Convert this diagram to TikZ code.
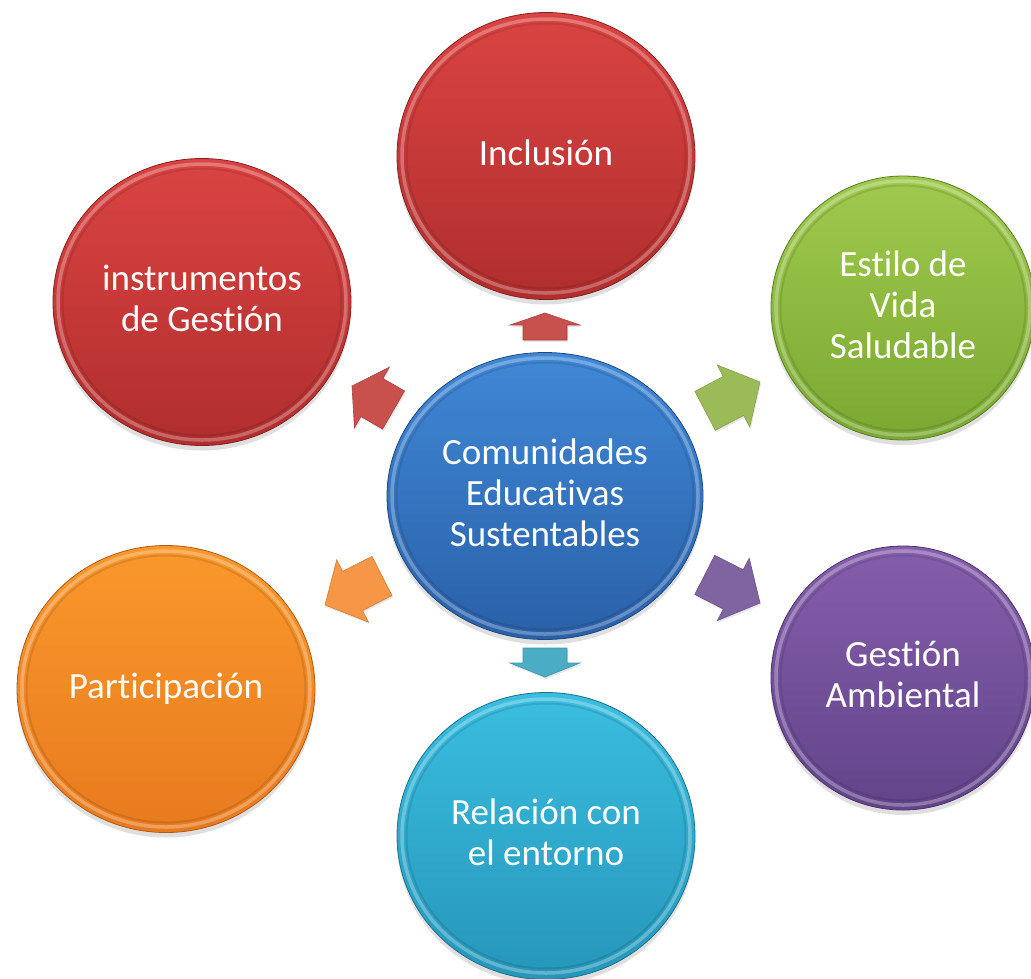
\documentclass[tikz,border=0pt]{standalone}
\usepackage{fontspec}
\setmainfont[Ligatures={NoCommon}]{Carlito}
\usetikzlibrary{shapes.geometric,shadows}
\definecolor{redT}{RGB}{218,68,66}
\definecolor{redB}{RGB}{176,46,46}
\definecolor{greenT}{RGB}{160,202,78}
\definecolor{greenB}{RGB}{122,168,50}
\definecolor{orangeT}{RGB}{250,152,44}
\definecolor{orangeB}{RGB}{232,122,30}
\definecolor{cyanT}{RGB}{58,190,224}
\definecolor{cyanB}{RGB}{38,150,186}
\definecolor{purpleT}{RGB}{134,94,172}
\definecolor{purpleB}{RGB}{98,68,138}
\definecolor{blueT}{RGB}{64,136,214}
\definecolor{blueB}{RGB}{42,96,168}
\definecolor{aRed}{RGB}{200,80,77}
\definecolor{aGreen}{RGB}{155,187,89}
\definecolor{aPurple}{RGB}{128,100,162}
\definecolor{aOrange}{RGB}{247,150,70}
\definecolor{aCyan}{RGB}{75,172,198}
\tikzset{
  bubble/.style n args={2}{ellipse, top color=#1, bottom color=#2, draw=#2!75!black,
    line width=0.8pt, text=white, align=center, inner sep=0pt, text depth=7pt,
    font=\fontsize{37}{41}\selectfont,
    drop shadow={opacity=0.25, shadow xshift=0pt, shadow yshift=-5pt}},
  bigb/.style={minimum width=298pt, minimum height=287pt},
  smallb/.style={minimum width=264pt, minimum height=264pt},
  blockarr/.style={fill=#1, draw=#1!85!black, line width=0.6pt, line join=miter,
    drop shadow={opacity=0.2, shadow xshift=1pt, shadow yshift=-2pt}},
}
\newcommand\bevelring[3]{%
  \draw[white, opacity=0.28, line width=3.5pt] (#1.center) ellipse [x radius=#2, y radius=#3];
  \draw[black, opacity=0.10, line width=2pt] (#1.center) ellipse [x radius=#2-4.5, y radius=#3-4.5];
}
\newcommand\barrow[8]{%
  \filldraw[blockarr=#1, shift={(#2,#3)}, rotate=#4]
    (0,0) -- (-#6,#7) -- (-#6,#8) -- (-#5,#8) -- (-#5,-#8) -- (-#6,-#8) -- (-#6,-#7) -- cycle;
}
\begin{document}
\begin{tikzpicture}[x=1pt,y=-1pt]
\useasboundingbox (0,0) rectangle (1031,978);
\clip (0,0) rectangle (1031,978);
% outer circles
\node[bubble={redT}{redB}, bigb] (incl) at (546,156) {Inclusión};
\bevelring{incl}{144}{137}
\node[bubble={redT}{redB}, bigb] (instr) at (202,302) {instrumentos\\de Gestión};
\bevelring{instr}{144}{138}
\node[bubble={greenT}{greenB}, smallb] (estilo) at (903,308) {Estilo de\\Vida\\Saludable};
\bevelring{estilo}{127}{127}
\node[bubble={purpleT}{purpleB}, smallb] (gamb) at (903,678) {Gestión\\Ambiental};
\bevelring{gamb}{127}{127}
\node[bubble={orangeT}{orangeB}, bigb] (part) at (166,689) {Participación};
\bevelring{part}{144}{138}
\node[bubble={cyanT}{cyanB}, bigb] (rel) at (546,836) {Relación con\\el entorno};
\bevelring{rel}{144}{137}
% center
\node[bubble={blueT}{blueB}, minimum width=316pt, minimum height=287pt] (ces) at (545,496) {Comunidades\\Educativas\\Sustentables};
\bevelring{ces}{153}{138}
% arrows
\barrow{aRed}{545}{313}{90}{27}{12}{35}{22}
\barrow{aCyan}{545}{677}{-90}{29}{14}{35}{22}
\barrow{aRed}{352}{386}{150}{48}{23}{35}{22}
\barrow{aGreen}{760}{382}{27.7}{62}{30}{35}{22}
\barrow{aPurple}{760}{603}{-27}{62}{30}{35}{22}
\barrow{aOrange}{325}{605}{207}{64}{31}{35}{22}
\end{tikzpicture}
\end{document}
